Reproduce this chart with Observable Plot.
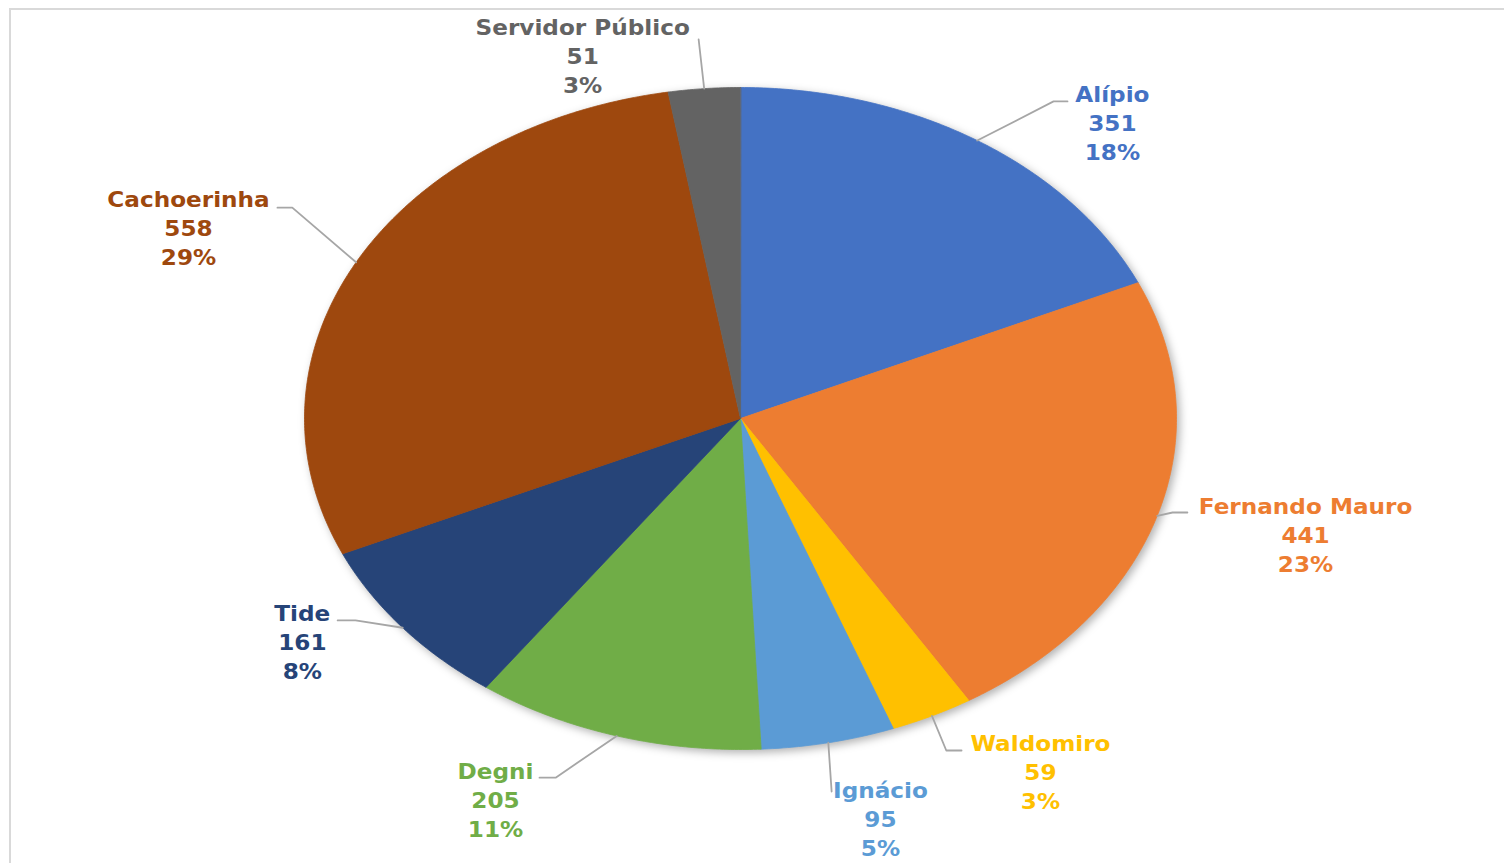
<!DOCTYPE html>
<html>
<head>
<meta charset="utf-8">
<script src="https://cdn.jsdelivr.net/npm/d3@7"></script>
<script src="https://cdn.jsdelivr.net/npm/@observablehq/plot@0.6"></script>
<style>
  html, body { margin: 0; padding: 0; background: #fff; overflow: hidden; }
  #frame { position: absolute; left: 9px; top: 8px; width: 1700px; height: 1000px;
           border-top: 2px solid #d9d9d9; border-left: 2px solid #d9d9d9; pointer-events: none; }
  #chart { position: absolute; left: 0; top: 0; }
</style>
</head>
<body>
<div id="chart"></div>
<div id="frame"></div>
<script>
// ---- data ----
const names  = ["Alípio", "Fernando Mauro", "Waldomiro", "Ignácio", "Degni", "Tide", "Cachoerinha", "Servidor Público"];
const values = [351, 441, 59, 95, 205, 161, 558, 51];
const colors = ["#4472C4", "#ED7D31", "#FFC000", "#5B9BD5", "#70AD47", "#264478", "#9E480E", "#636363"];

// ---- layout (in the chart's unit-ellipse coordinates) ----
const labelPos = [[0.853, 0.888], [1.296, -0.356], [0.688, -1.073], [0.321, -1.215],
                  [-0.562, -1.157], [-1.005, -0.680], [-1.266, 0.571], [-0.362, 1.091]];
const leaderBends = [
  [[0.718, 0.958], [0.750, 0.958]],
  [[0.991, -0.284], [1.025, -0.284]],
  [[0.472, -1.003], [0.507, -1.003]],
  [[0.209, -1.127]],
  [[-0.424, -1.085], [-0.461, -1.085]],
  [[-0.883, -0.610], [-0.924, -0.610]],
  [[-1.028, 0.637], [-1.062, 0.637]],
  [[-0.096, 1.145]]
];

const total = d3.sum(values);
const arcs = d3.pie().sort(null).value(d => d)(values);

const slicePts = [];
arcs.forEach((a, i) => {
  slicePts.push({name: names[i], x: 0, y: 0});
  const n = Math.max(2, Math.ceil((a.endAngle - a.startAngle) / (Math.PI / 360)));
  for (let k = 0; k <= n; k++) {
    const t = a.startAngle + (a.endAngle - a.startAngle) * k / n;
    slicePts.push({name: names[i], x: Math.sin(t), y: Math.cos(t)});
  }
});

const leaderPts = [];
arcs.forEach((a, i) => {
  const m = (a.startAngle + a.endAngle) / 2;
  leaderPts.push({name: names[i], x: Math.sin(m), y: Math.cos(m)});
  leaderBends[i].forEach(p => leaderPts.push({name: names[i], x: p[0], y: p[1]}));
});

const labels = names.map((n, i) => ({
  name: n,
  x: labelPos[i][0],
  y: labelPos[i][1],
  text: `${n}\n${values[i]}\n${Math.round(values[i] / total * 100)}%`
}));

const W = 1504, H = 863;
const plot = Plot.plot({
  width: W, height: H,
  marginLeft: 304, marginRight: W - 1176,
  marginTop: 87, marginBottom: H - 749,
  style: {background: "transparent"},
  x: {domain: [-1, 1], axis: null},
  y: {domain: [-1, 1], axis: null},
  color: {domain: names, range: colors},
  marks: [
    Plot.line(slicePts, {x: "x", y: "y", z: "name", fill: "name", stroke: "name", strokeWidth: 0.8, curve: "linear-closed"}),
    Plot.line(leaderPts, {x: "x", y: "y", z: "name", stroke: "#a6a6a6", strokeWidth: 1.8}),
    Plot.text(labels, {x: "x", y: "y", dy: -3, text: "text", fill: "name", fontSize: 20.5, fontWeight: "bold",
                       fontFamily: "DejaVu Sans", lineHeight: 1.42})
  ]
});

// soft shadow under the pie
const g = plot.querySelector('g[aria-label="line"]');
if (g) g.style.filter = "drop-shadow(3px 3px 4px rgba(0,0,0,0.30))";

// widen label glyphs like the original
plot.querySelectorAll('g[aria-label="text"] text').forEach(t => {
  const tr = t.getAttribute("transform");
  if (tr) t.setAttribute("transform", tr + " scale(1.13,1)");
  else {
    const x = +t.getAttribute("x") || 0, y = +t.getAttribute("y") || 0;
    t.removeAttribute("x"); t.removeAttribute("y");
    t.setAttribute("transform", `translate(${x},${y}) scale(1.13,1)`);
  }
});

document.getElementById("chart").appendChild(plot);
</script>
</body>
</html>
